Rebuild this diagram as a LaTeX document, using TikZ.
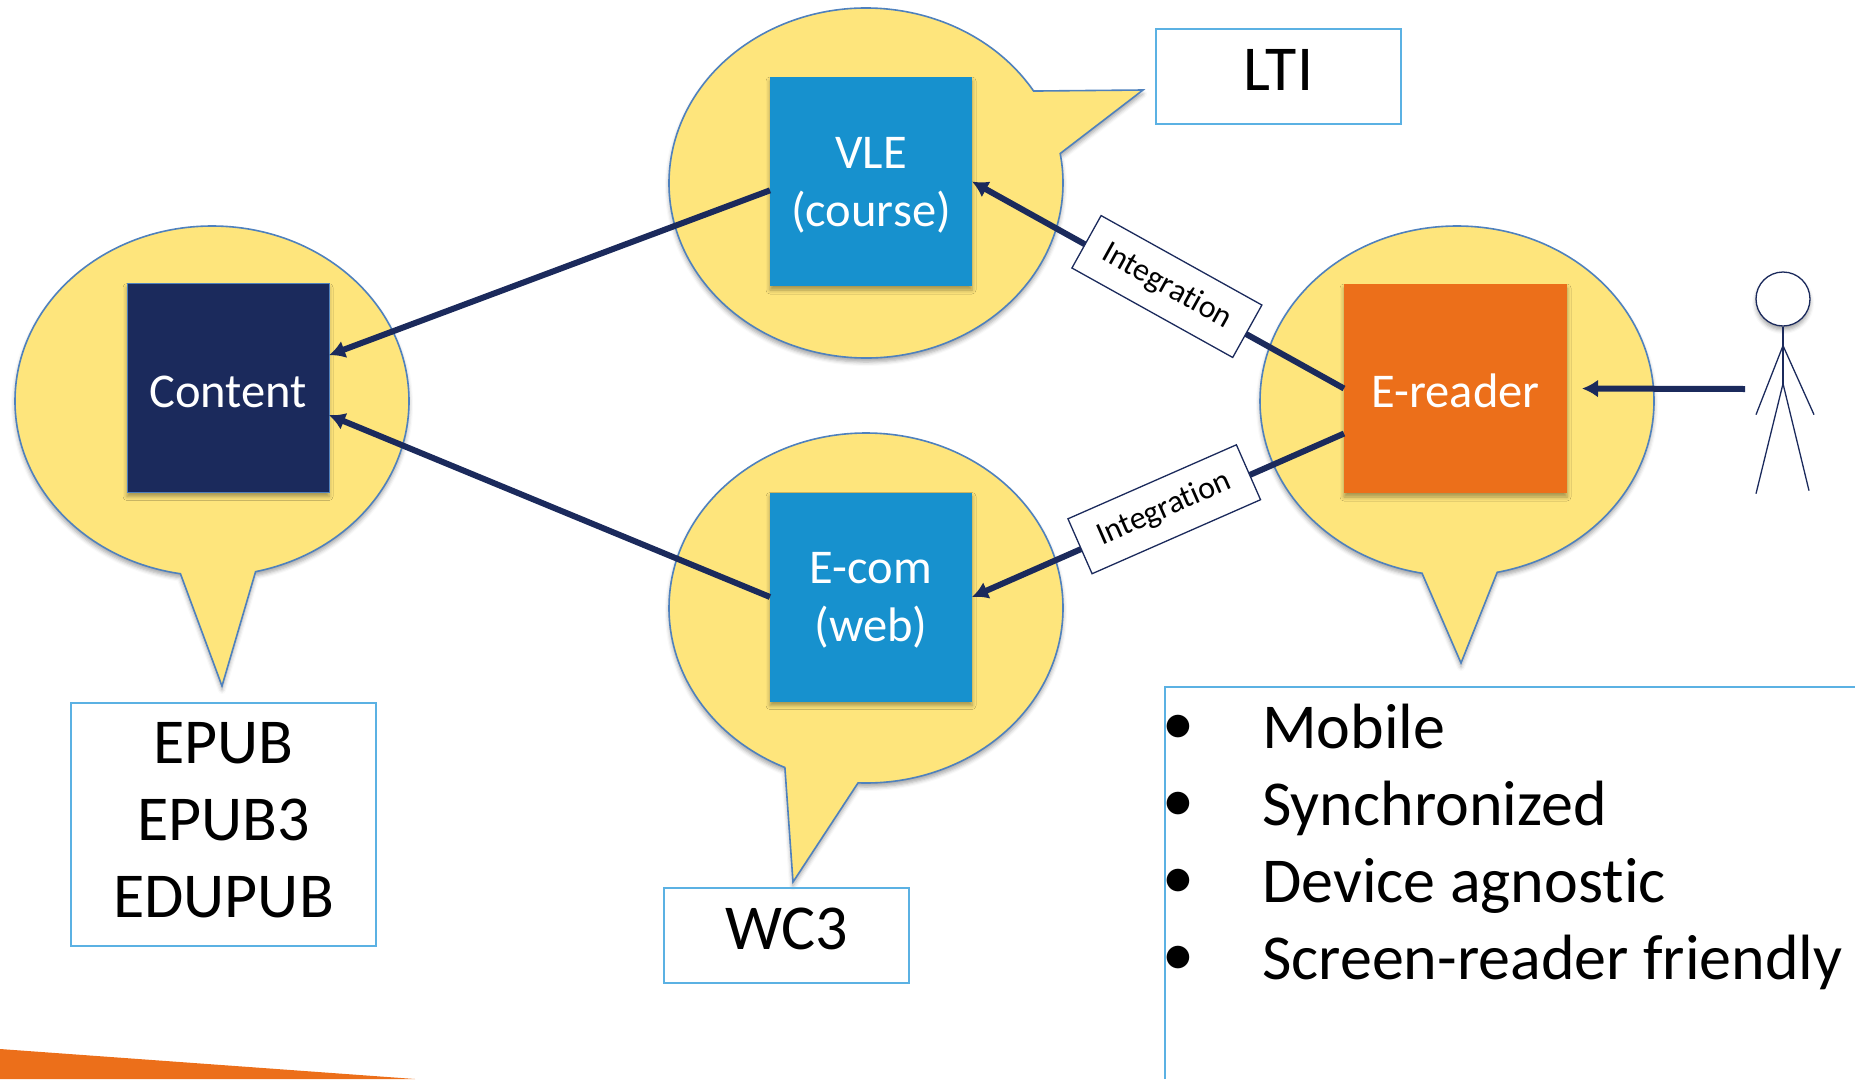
\documentclass[tikz,border=0pt]{standalone}
\usepackage{fontspec}
\setmainfont[Ligatures=NoCommon]{Carlito}
\usetikzlibrary{arrows.meta,shadows.blur,shapes.callouts}
\definecolor{bubblefill}{HTML}{FEE57C}
\definecolor{bubbleline}{HTML}{4F81BD}
\definecolor{panelblue}{HTML}{1791CE}
\definecolor{panelnavy}{HTML}{1B2A5C}
\definecolor{panelorange}{HTML}{EC6F1A}
\definecolor{frameblue}{HTML}{5BB1E3}
\newcommand{\bigtext}{\fontsize{64}{77}\selectfont}
\newcommand{\midtext}{\fontsize{48.5}{58}\selectfont}
\tikzset{
  softshadow/.style={blur shadow={shadow xshift=0pt,shadow yshift=-4pt,shadow blur radius=4pt,shadow opacity=35}},
  bubble/.style={ellipse callout,callout pointer arc=22,draw=bubbleline,line width=1.6pt,fill=bubblefill,
    minimum width=394pt,minimum height=350pt,inner sep=0pt,softshadow},
  panel/.style={rectangle,minimum width=202pt,minimum height=209pt,inner sep=0pt,outer sep=0pt,
    text=white,align=center,font=\midtext,softshadow,text depth=0pt},
  framed/.style={rectangle,draw=frameblue,line width=1.4pt,inner sep=0pt,align=center,font=\bigtext},
  link/.style={draw=panelnavy,line width=6pt},
  linkarrow/.style={link,-{Latex[length=16pt,width=18pt]}},
  tagbox/.style={rectangle,draw=panelnavy,line width=1.3pt,fill=white,sloped,text=black,yshift=3pt,
    minimum width=184pt,minimum height=60pt,inner sep=0pt,font=\fontsize{32}{38}\selectfont},
  stick/.style={draw=panelnavy,line width=1.3pt},
  listitem/.style={anchor=base west,inner sep=0pt,font=\bigtext}
}
\begin{document}
\begin{tikzpicture}[x=1pt,y=-1pt]
\useasboundingbox (0,0) rectangle (1855,1079);
\fill[panelorange] (0,1049) -- (415,1079) -- (0,1079) -- cycle;

\node[bubble,callout absolute pointer={(222,686)}] (contentbubble) at (212,401) {};
\node[bubble,callout absolute pointer={(1143,90)}] (vlebubble) at (866,183) {};
\node[bubble,callout absolute pointer={(793,882)}] (ecombubble) at (866,608) {};
\node[bubble,callout absolute pointer={(1461,663)}] (readerbubble) at (1457,401) {};

\node[panel,fill=panelnavy,draw=bubbleline,line width=1pt,text height=38pt] (content) at (228,388) {Content};
\node[panel,fill=panelblue] (vle) at (871,181.5) {VLE\\(course)};
\node[panel,fill=panelblue] (ecom) at (871,597) {E-com\\(web)};
\node[panel,fill=panelorange,minimum width=223pt,text height=38pt] (reader) at (1455.5,388.5) {E-reader};

\node[framed,minimum width=245pt,minimum height=95pt,text height=43pt,text depth=15pt] (lti) at (1278.5,76.5) {LTI};
\node[framed,minimum width=245pt,minimum height=95pt,text height=43pt,text depth=15pt] (wc3) at (786.5,935.5) {WC3};
\node[framed,minimum width=305pt,minimum height=243pt,text depth=10pt] (epub) at (223.5,824.5) {EPUB\\EPUB3\\EDUPUB};

\draw[frameblue,line width=1.4pt] (1855,687) -- (1165,687) -- (1165,1079);
\foreach \nm/\ypos/\item in {mobile/748/Mobile,synced/825/Synchronized,agnostic/902/Device agnostic,screen/979/Screen-reader friendly}
  \node[listitem] (\nm) at (1165,\ypos) {\makebox[97pt][l]{\hspace{-3pt}\raisebox{4pt}{\textbullet}}\item};

\draw[linkarrow] (vle.185) -- (content.18);
\draw[linkarrow] (ecom.west) -- (content.-15);
\draw[linkarrow] (reader.west) -- node[tagbox,pos=.48] (tagvle) {Integration} (vle.east);
\draw[linkarrow] (reader.202) -- node[tagbox,pos=.48] (tagecom) {Integration} (ecom.east);

\node[circle,draw=panelnavy,line width=1.3pt,fill=white,minimum size=54pt,inner sep=0pt,softshadow] (head) at (1783,299) {};
\draw[stick] (head.south) -- ++(0,19) coordinate (shoulder) -- ++(0,38) coordinate (hip);
\draw[stick] (shoulder) -- ++(-27,69) coordinate (lefthand);
\draw[stick] (shoulder) -- ++(31,69) coordinate (righthand);
\draw[stick] (hip) -- ++(-27,110) coordinate (leftfoot);
\draw[stick] (hip) -- ++(26,107) coordinate (rightfoot);
\coordinate (user) at (1745,389);
\draw[linkarrow,shorten >=15pt] (user) -- (reader.east);
\end{tikzpicture}
\end{document}
